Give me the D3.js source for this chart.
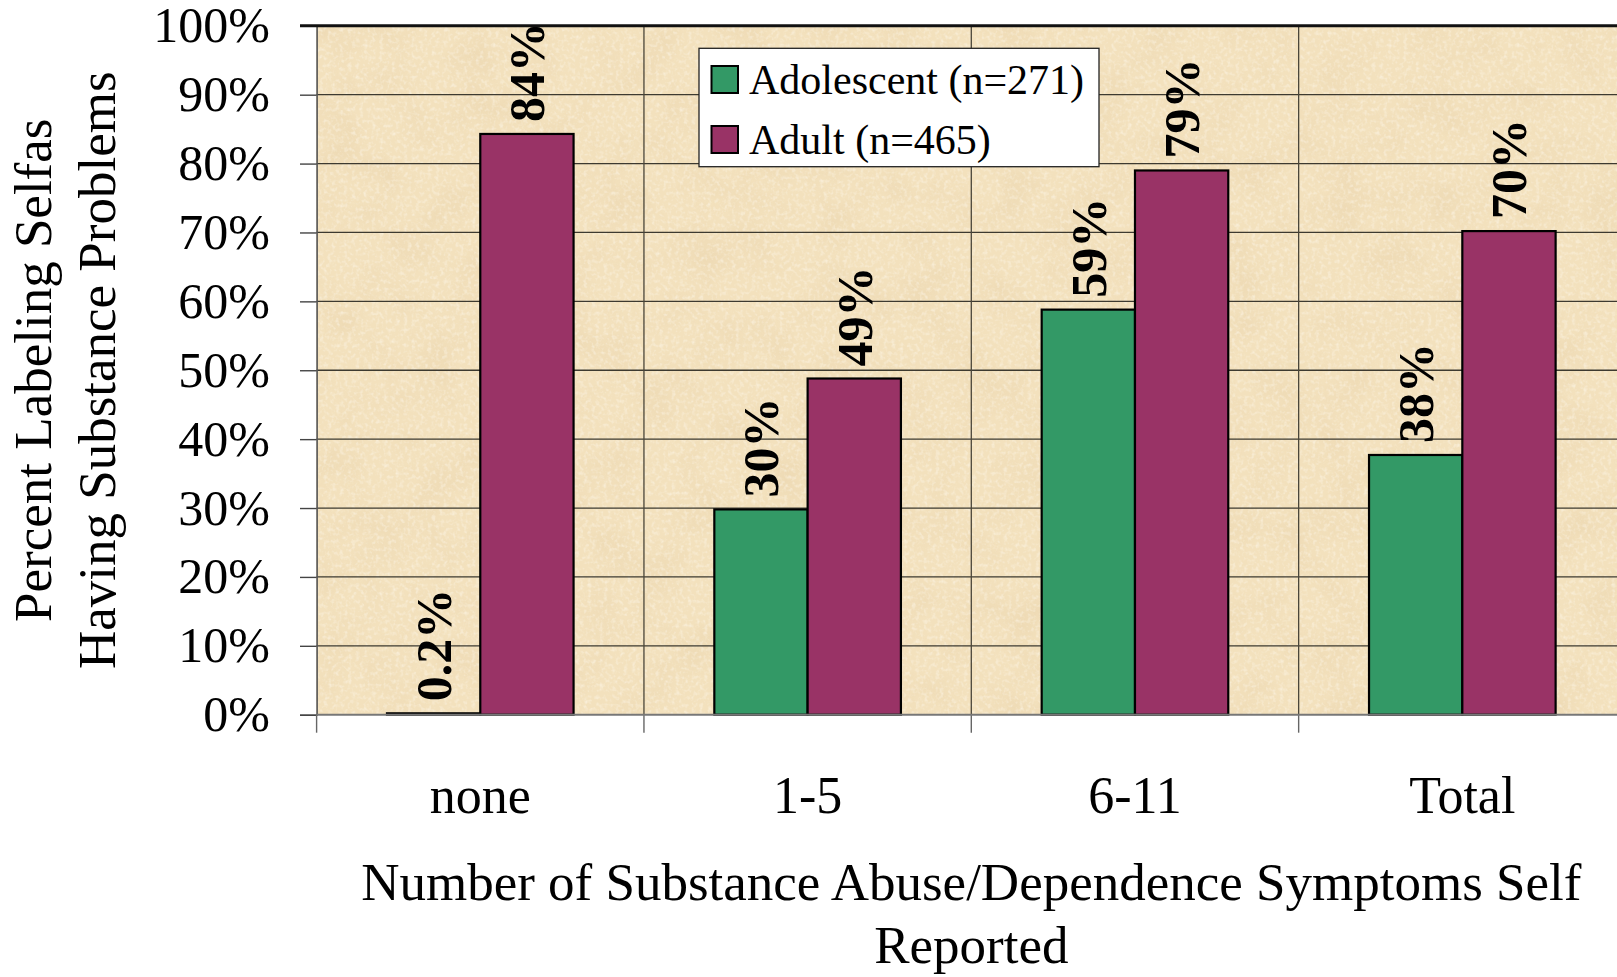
<!DOCTYPE html>
<html>
<head>
<meta charset="utf-8">
<script src="https://cdn.jsdelivr.net/npm/d3@7"></script>
<style>
  html, body { margin: 0; padding: 0; background: #ffffff; overflow: hidden; }
  svg { display: block; font-family: "Liberation Serif", "Times New Roman", serif; }
</style>
</head>
<body>
<svg id="chart" width="1617" height="977"></svg>
<script>
// ---- data ----
const categories = ["none", "1-5", "6-11", "Total"];
const seriesNames = ["Adolescent (n=271)", "Adult (n=465)"];
const adolescentValues = [0.2, 29.8, 58.8, 37.7];
const adultValues = [84.3, 48.8, 79.0, 70.2];
const adolescentLabels = ["0.2%", "30%", "59%", "38%"];
const adultLabels = ["84%", "49%", "79%", "70%"];
const yTicks = [0, 10, 20, 30, 40, 50, 60, 70, 80, 90, 100];
const colors = ["#339966", "#993366"];
const yTitleLines = ["Percent Labeling Selfas", "Having Substance Problems"];
const xTitleLines = ["Number of Substance Abuse/Dependence Symptoms Self", "Reported"];

(function () {
const svg = d3.select("#chart");
const pLeft = 316.6, pRight = 1626, pTop = 25.8, pBottom = 714.7;

const x0 = d3.scaleBand().domain(categories).range([pLeft, pRight]).paddingInner(0.43).paddingOuter(0.215);
const x1 = d3.scaleBand().domain([0, 1]).range([0, x0.bandwidth()]);
const y = d3.scaleLinear().domain([0, 100]).range([pBottom, pTop]);

// texture filters
const defs = svg.append("defs");
const f = defs.append("filter").attr("id", "parch").attr("x", 0).attr("y", 0).attr("width", "100%").attr("height", "100%");
f.append("feTurbulence").attr("type", "fractalNoise").attr("baseFrequency", "0.022").attr("numOctaves", 5).attr("seed", 7).attr("result", "n");
f.append("feColorMatrix").attr("in", "n").attr("type", "matrix")
  .attr("values", "0 0 0 0 0.82  0 0 0 0 0.66  0 0 0 0 0.42  1.8 0 0 0 -0.78");
const f2 = defs.append("filter").attr("id", "speck").attr("x", 0).attr("y", 0).attr("width", "100%").attr("height", "100%");
f2.append("feTurbulence").attr("type", "fractalNoise").attr("baseFrequency", "0.25").attr("numOctaves", 3).attr("seed", 3).attr("result", "n");
f2.append("feColorMatrix").attr("in", "n").attr("type", "matrix")
  .attr("values", "0 0 0 0 1  0 0 0 0 0.97  0 0 0 0 0.90  1.8 0 0 0 -0.82");

// plot background
const bgW = 1617 - pLeft, bgH = pBottom - pTop;
svg.append("rect").attr("x", pLeft).attr("y", pTop).attr("width", bgW).attr("height", bgH).attr("fill", "#F3E1BD");
svg.append("rect").attr("x", pLeft).attr("y", pTop).attr("width", bgW).attr("height", bgH).attr("fill", "#000").attr("filter", "url(#parch)").attr("opacity", 0.6);
svg.append("rect").attr("x", pLeft).attr("y", pTop).attr("width", bgW).attr("height", bgH).attr("fill", "#000").attr("filter", "url(#speck)").attr("opacity", 0.6);

// horizontal gridlines
svg.append("g").selectAll("line").data(yTicks.filter(d => d > 0 && d < 100)).join("line")
  .attr("x1", pLeft).attr("x2", 1617).attr("y1", d => y(d)).attr("y2", d => y(d))
  .attr("stroke", "#3d3a30").attr("stroke-width", 1.3);

// vertical gridlines at category boundaries
const step = x0.step();
const boundaries = d3.range(categories.length + 1).map(i => x0(categories[0]) - x0.paddingOuter() * step + i * step);
svg.append("g").selectAll("line").data(boundaries.slice(1)).join("line")
  .attr("x1", d => d).attr("x2", d => d).attr("y1", pTop).attr("y2", pBottom)
  .attr("stroke", "#4a463a").attr("stroke-width", 1.3);

// y axis
const yAxis = svg.append("g").attr("transform", `translate(${pLeft},0)`)
  .call(d3.axisLeft(y).tickValues(yTicks).tickFormat(d => d + "%").tickSize(16.6).tickPadding(30));
yAxis.select(".domain").attr("stroke", "#555").attr("stroke-width", 1.6);
yAxis.selectAll(".tick line").attr("stroke", "#444").attr("stroke-width", 1.4);
yAxis.selectAll("text").attr("font-size", 50).attr("fill", "#000").attr("font-family", "Liberation Serif");

// x axis labels
const xAxis = svg.append("g").attr("transform", `translate(0,${pBottom})`)
  .call(d3.axisBottom(x0).tickSize(0).tickPadding(61));
xAxis.select(".domain").remove();
xAxis.selectAll("text").attr("font-size", 52).attr("fill", "#000").attr("font-family", "Liberation Serif");

// x boundary ticks
svg.append("g").selectAll("line").data(boundaries).join("line")
  .attr("x1", d => d).attr("x2", d => d).attr("y1", pBottom).attr("y2", pBottom + 18)
  .attr("stroke", "#666").attr("stroke-width", 1.4);

// bars
const rows = categories.map((c, i) => ({cat: c, vals: [adolescentValues[i], adultValues[i]], labels: [adolescentLabels[i], adultLabels[i]]}));
const groups = svg.append("g").selectAll("g").data(rows).join("g")
  .attr("transform", d => `translate(${x0(d.cat)},0)`);
groups.selectAll("rect").data(d => d.vals.map((v, k) => ({v, k}))).join("rect")
  .attr("x", d => x1(d.k)).attr("width", x1.bandwidth())
  .attr("y", d => y(d.v)).attr("height", d => y(0) - y(d.v))
  .attr("fill", d => colors[d.k]).attr("stroke", "#000").attr("stroke-width", 2.2);

// x axis line
svg.append("line").attr("x1", pLeft).attr("x2", 1617).attr("y1", pBottom).attr("y2", pBottom)
  .attr("stroke", "#777").attr("stroke-width", 2);

// top border
svg.append("line").attr("x1", pLeft - 16.6).attr("x2", 1617).attr("y1", pTop).attr("y2", pTop)
  .attr("stroke", "#111").attr("stroke-width", 3);

// value labels
groups.selectAll("text.val").data(d => d.vals.map((v, k) => ({v, k, label: d.labels[k]}))).join("text")
  .attr("class", "val")
  .attr("transform", d => `translate(${x1(d.k) + x1.bandwidth() / 2},${y(d.v) - 12}) rotate(-90)`)
  .attr("dy", "0.35em")
  .attr("text-anchor", "start")
  .attr("font-size", 50).attr("font-weight", "bold").attr("fill", "#000")
  .text(d => d.label);

// legend
const lg = svg.append("g");
lg.append("rect").attr("x", 699).attr("y", 48.3).attr("width", 400).attr("height", 118.4)
  .attr("fill", "#fff").attr("stroke", "#222").attr("stroke-width", 1.3);
seriesNames.forEach((name, i) => {
  const yy = 66 + i * 60;
  lg.append("rect").attr("x", 711.5).attr("y", yy).attr("width", 26.5).attr("height", 27)
    .attr("fill", colors[i]).attr("stroke", "#000").attr("stroke-width", 2);
  lg.append("text").attr("x", 749).attr("y", yy + 27.5).attr("font-size", 42).attr("fill", "#000").text(name);
});

// y title
const cy = (pTop + pBottom) / 2;
yTitleLines.forEach((t, i) => {
  svg.append("text").attr("transform", `translate(${51 + i * 64},${cy}) rotate(-90)`)
    .attr("text-anchor", "middle").attr("font-size", 53).attr("fill", "#000").text(t);
});

// x title
const cx = (pLeft + pRight) / 2;
xTitleLines.forEach((t, i) => {
  svg.append("text").attr("x", cx).attr("y", 900 + i * 63)
    .attr("text-anchor", "middle").attr("font-size", 53).attr("fill", "#000").text(t);
});
})();
</script>
</body>
</html>
